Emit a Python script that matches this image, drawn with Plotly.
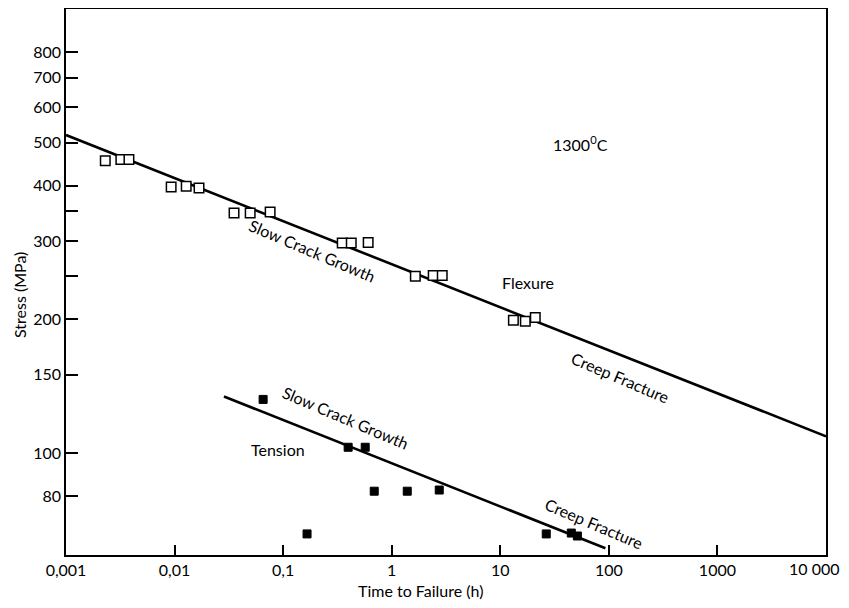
import plotly.graph_objects as go
import math

# Flexure data (open squares)
flex_time = [0.0023, 0.0032, 0.0038, 0.0093, 0.0128, 0.0168, 0.0353, 0.0497, 0.0759,
             0.350, 0.424, 0.607, 1.65, 2.41, 2.92, 13.2, 17.0, 21.0]
flex_stress = [455, 458, 458, 397, 399, 395, 347, 347, 349,
               297, 297, 298, 250, 251, 251, 199, 198, 202]

# Tension data (filled squares)
ten_time = [0.0654, 0.397, 0.570, 0.166, 0.690, 1.39, 2.74, 26.5, 45.1, 51.3]
ten_stress = [132, 103, 103, 65.7, 82, 82, 82.5, 65.7, 66, 65]

# Fitted lines
flex_fit_time = [0.001, 10000]
flex_fit_stress = [520, 109]
ten_fit_time = [0.0285, 93]
ten_fit_stress = [134, 61]

x_tickvals = [0.001, 0.01, 0.1, 1, 10, 100, 1000, 10000]
x_ticktext = ["0,001", "0,01", "0,1", "1", "10", "100", "1000", "10 000"]
y_tickvals = [80, 100, 150, 200, 300, 400, 500, 600, 700, 800]
y_ticktext = ["80", "100", "150", "200", "300", "400", "500", "600", "700", "800"]
y_minor_tickvals = [250, 350]

FONT = "Lato, Liberation Sans Narrow, sans-serif"
FS = 16

# page has an 8px body margin; figure occupies window minus that offset
OFF = 8
L, R, T, B = 66 - OFF, 23, 9 - OFF, 53
W, H = 849 - OFF, 608 - OFF
pw, ph = W - L - R, H - T - B

fig = go.Figure()
fig.add_trace(go.Scatter(x=flex_fit_time, y=flex_fit_stress, mode="lines",
                         line=dict(color="black", width=2.6), showlegend=False))
fig.add_trace(go.Scatter(x=ten_fit_time, y=ten_fit_stress, mode="lines",
                         line=dict(color="black", width=2.6), showlegend=False))
fig.add_trace(go.Scatter(x=flex_time, y=flex_stress, mode="markers",
                         marker=dict(symbol="square", size=9.5, color="white",
                                     line=dict(color="black", width=1.5)),
                         showlegend=False))
fig.add_trace(go.Scatter(x=ten_time, y=ten_stress, mode="markers",
                         marker=dict(symbol="square", size=8, color="black",
                                     line=dict(color="black", width=1)),
                         showlegend=False))

ann = [
    ("1300<sup>0</sup>C", 1.737, 2.698, 0),
    ("Flexure", 1.258, 2.385, 0),
    ("Slow Crack Growth", -0.733, 2.457, 23),
    ("Creep Fracture", 2.106, 2.169, 23),
    ("Slow Crack Growth", -0.429, 2.079, 23),
    ("Tension", -1.046, 2.007, 0),
    ("Creep Fracture", 1.866, 1.842, 23),
]
for t, x, y, a in ann:
    fig.add_annotation(x=x, y=y, xref="x", yref="y", text=t, showarrow=False,
                       textangle=a, font=dict(family=FONT, size=FS, color="black"))

# screen pixel -> paper coords
def px_to_paper(px, py):
    return ((px - OFF) - L) / pw, (H - B - (py - OFF)) / ph

tx, ty = px_to_paper(420, 590)
fig.add_annotation(x=tx, y=ty, xref="paper", yref="paper", text="Time to Failure (h)",
                   xanchor="center", yanchor="middle",
                   showarrow=False, font=dict(family=FONT, size=FS, color="black"))
sx, sy = px_to_paper(19, 295)
fig.add_annotation(x=sx, y=sy, xref="paper", yref="paper", text="Stress (MPa)",
                   xanchor="center", yanchor="middle",
                   textangle=-90, showarrow=False,
                   font=dict(family=FONT, size=FS, color="black"))

# last x tick (at the right frame edge) labelled right-aligned so it stays inside the window
lx, ly = px_to_paper(842, 568)
fig.add_annotation(x=lx, y=ly, xref="paper", yref="paper", text=x_ticktext[-1],
                   xanchor="right", yanchor="middle", showarrow=False,
                   font=dict(family=FONT, size=FS, color="black"))

fig.update_xaxes(type="log", range=[-3, 4], tickvals=x_tickvals[:-1],
                 ticktext=x_ticktext[:-1],
                 ticks="inside", ticklen=10, tickwidth=1.5, tickcolor="black",
                 showline=True, linecolor="black", linewidth=1.5, mirror=True,
                 showgrid=False, zeroline=False, automargin=False,
                 ticklabeloverflow="allow",
                 tickfont=dict(family=FONT, size=FS, color="black"))
fig.update_yaxes(type="log", range=[math.log10(58.9), 3.0], tickvals=y_tickvals,
                 ticktext=y_ticktext,
                 ticks="inside", ticklen=12, tickwidth=1.5, tickcolor="black",
                 minor=dict(tickvals=y_minor_tickvals, ticks="inside", ticklen=12,
                            tickwidth=1.5, tickcolor="black", showgrid=False),
                 showline=True, linecolor="black", linewidth=1.5, mirror=True,
                 showgrid=False, zeroline=False, automargin=False,
                 ticklabeloverflow="allow",
                 tickfont=dict(family=FONT, size=FS, color="black"))

fig.update_layout(width=W, height=H, plot_bgcolor="white", paper_bgcolor="white",
                  margin=dict(l=L, r=R, t=T, b=B), showlegend=False,
                  font=dict(family=FONT, size=FS, color="black"))

fig.write_html("out.html")
